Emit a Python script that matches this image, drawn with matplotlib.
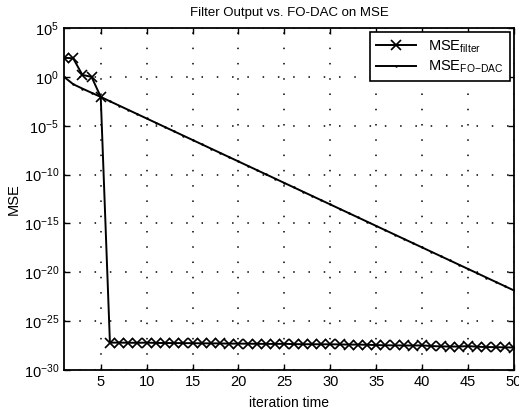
import numpy as np
import matplotlib
matplotlib.use("Agg")
import matplotlib.pyplot as plt
from matplotlib.ticker import NullLocator

plt.rcParams['font.family'] = ['Liberation Sans', 'DejaVu Sans']
plt.rcParams['mathtext.fontset'] = 'custom'
plt.rcParams['mathtext.rm'] = 'Liberation Sans'
plt.rcParams['mathtext.it'] = 'Liberation Sans:italic'
plt.rcParams['mathtext.bf'] = 'Liberation Sans:bold'

iterations = list(range(1, 51))

# log10 of MSE of the filter output
log_mse_filter = [1.95, 1.9, 0.2, 0.0, -2.05,
                  -27.2, -27.2, -27.21, -27.22, -27.2, -27.23, -27.24, -27.24, -27.25, -27.25,
                  -27.27, -27.27, -27.28, -27.3, -27.3, -27.31, -27.32, -27.33, -27.33, -27.32,
                  -27.35, -27.36, -27.36, -27.37, -27.37, -27.38, -27.4, -27.4, -27.42, -27.45,
                  -27.47, -27.48, -27.49, -27.5, -27.48, -27.55, -27.58, -27.6, -27.6, -27.55,
                  -27.62, -27.65, -27.66, -27.68, -27.7]

# log10 of MSE of FO-DAC
log_mse_fodac = [0.0, -0.75, -1.2, -1.63, -2.05, -2.5, -2.94, -3.38, -3.82, -4.26,
                 -4.7, -5.14, -5.58, -6.02, -6.46, -6.9, -7.34, -7.78, -8.22, -8.66,
                 -9.1, -9.54, -9.98, -10.42, -10.86, -11.3, -11.74, -12.18, -12.62, -13.06,
                 -13.5, -13.94, -14.38, -14.82, -15.26, -15.7, -16.14, -16.58, -17.02, -17.46,
                 -17.9, -18.34, -18.78, -19.22, -19.66, -20.1, -20.54, -20.98, -21.42, -21.86]

x_ticks = [5, 10, 15, 20, 25, 30, 35, 40, 45, 50]
y_tick_exps = [-30, -25, -20, -15, -10, -5, 0, 5]

mse_filter = 10.0 ** np.array(log_mse_filter)
mse_fodac = 10.0 ** np.array(log_mse_fodac)

fig = plt.figure(figsize=(5.19, 4.12), dpi=100)
ax = fig.add_axes([64/519, 1 - 370/412, 450/519, 342/412])

ax.semilogy(iterations, mse_filter, color='black', lw=1.4, marker='x', ms=6.5, mew=1.2,
            label=r'MSE$_{\mathrm{filter}}$')
ax.semilogy(iterations, mse_fodac, color='black', lw=1.4, marker='.', ms=1.5,
            label=r'MSE$_{\mathrm{FO\!-\!DAC}}$')

ax.set_xlim(1, 50)
ax.set_ylim(1e-30, 1e5)
ax.set_xticks(x_ticks)
ax.set_yticks([10.0 ** k for k in y_tick_exps])
ax.yaxis.set_minor_locator(NullLocator())
ax.tick_params(which='both', direction='in', top=True, right=True, labelsize=10.5, length=4,
               width=1.0)
ax.grid(True, which='major', color='black', linestyle=(0, (1, 9)), linewidth=1.1)
for s in ax.spines.values():
    s.set_linewidth(1.3)

ax.set_title('Filter Output vs. FO-DAC on MSE', fontsize=9.5, pad=9)
ax.set_xlabel('iteration time', fontsize=10, labelpad=5)
ax.set_ylabel('MSE', fontsize=10.5, labelpad=2)

leg = ax.legend(loc='upper right', fontsize=10.5, frameon=True, fancybox=False,
                edgecolor='black', framealpha=1, borderaxespad=0.3, handlelength=2.8,
                labelspacing=0.3, borderpad=0.4)
leg.get_frame().set_linewidth(1.2)

fig.savefig('out.png', dpi=100)
